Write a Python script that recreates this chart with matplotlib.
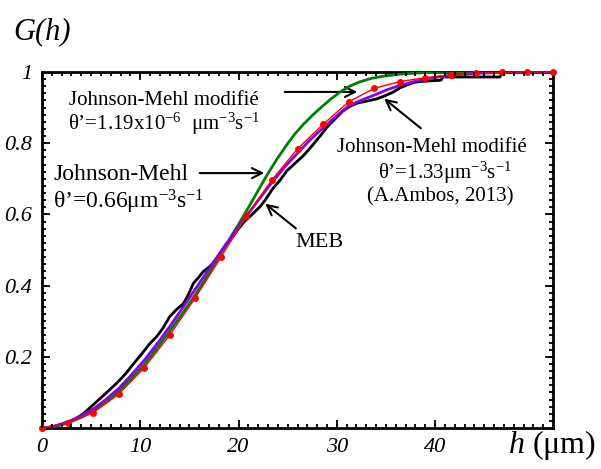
import matplotlib
matplotlib.use("Agg")
import numpy as np
import matplotlib.pyplot as plt
from matplotlib.ticker import FixedLocator, FixedFormatter, NullLocator

plt.rcParams['font.family'] = ['Liberation Serif', 'DejaVu Serif']
plt.rcParams['mathtext.fontset'] = 'custom'
plt.rcParams['mathtext.rm'] = 'Liberation Serif'
plt.rcParams['mathtext.it'] = 'Liberation Serif:italic'

# MEB (experimental)
meb_h = [0, 1, 2, 3.2, 4.2, 5.2, 6.4, 7.6, 8.5, 9.3, 10.2, 11.0, 11.65, 12.3, 13.0,
         13.7, 14.4, 14.9, 15.4, 16.0, 16.4, 17.0, 17.4, 18.1, 18.8, 19.4, 20.0,
         20.6, 21.3, 22.2, 22.7, 23.5, 24.2, 24.9, 25.8, 26.6, 27.4, 28.3, 29.0,
         29.6, 30.6, 31.3, 32.0, 33.0, 34.0, 34.8, 35.7, 36.4, 37.1, 37.8, 38.4,
         39.5, 40.6, 40.8, 46.6, 46.8, 47.4, 52]
meb_G = [0, 0.003, 0.010, 0.022, 0.040, 0.065, 0.095, 0.126, 0.152, 0.180, 0.210,
         0.238, 0.256, 0.280, 0.313, 0.333, 0.350, 0.375, 0.406, 0.425, 0.439, 0.452,
         0.463, 0.490, 0.519, 0.537, 0.560, 0.580, 0.598, 0.622, 0.640, 0.673, 0.695,
         0.722, 0.745, 0.765, 0.790, 0.820, 0.845, 0.862, 0.890, 0.903, 0.912, 0.918,
         0.924, 0.932, 0.943, 0.955, 0.963, 0.970, 0.973, 0.975, 0.977, 0.986, 0.986,
         0.997, 1.0, 1.0]

# Johnson-Mehl modifié theta'=1.19e-6 (green)
jmm1_h = [0, 1, 2.6, 4, 5.2, 6.5, 7.8, 9, 10.4, 11.7, 13.0, 14.3, 15.6, 16.9, 18.2,
          19.4, 20.5, 21.6, 22.8, 23.9, 24.9, 25.7, 26.6, 27.5, 28.3, 29.3, 30.3,
          31.3, 32.3, 33.5, 34.7, 36.4, 38, 40, 42, 52]
jmm1_G = [0, 0.002, 0.014, 0.030, 0.047, 0.072, 0.102, 0.136, 0.178, 0.224, 0.272,
          0.322, 0.374, 0.430, 0.490, 0.545, 0.595, 0.648, 0.706, 0.755, 0.795, 0.825,
          0.853, 0.878, 0.898, 0.922, 0.943, 0.960, 0.972, 0.982, 0.988, 0.994, 0.997,
          0.999, 1.0, 1.0]

# Johnson-Mehl theta'=0.66 (purple)
jm_h = [0, 1, 2.6, 4, 5.2, 6.5, 7.8, 9, 10.4, 11.7, 13.0, 14.3, 15.6, 16.9, 18.2,
        19.5, 20.8, 22.1, 23.4, 24.7, 26.0, 27.3, 28.6, 29.9, 31.2, 32.5, 33.8,
        35.1, 36.4, 37.7, 39.0, 40.3, 41.6, 42.9, 44.2, 46.8, 52]
jm_G = [0, 0.003, 0.017, 0.034, 0.053, 0.080, 0.111, 0.146, 0.190, 0.236, 0.285,
        0.337, 0.390, 0.443, 0.495, 0.546, 0.595, 0.643, 0.690, 0.733, 0.772, 0.810,
        0.843, 0.875, 0.905, 0.921, 0.935, 0.950, 0.962, 0.972, 0.980, 0.986, 0.990,
        0.994, 0.996, 0.999, 1.0]

# Johnson-Mehl modifié theta'=1.33 (A.Ambos, 2013) (red)
jma_h = [0, 2.6, 5.2, 7.8, 10.4, 13.0, 15.6, 18.2, 20.8, 23.4, 26.0, 28.6, 31.2,
         33.8, 36.4, 39.0, 41.6, 44.2, 46.8, 49.4, 52.0]
jma_G = [0, 0.013, 0.043, 0.095, 0.169, 0.261, 0.366, 0.479, 0.596, 0.697, 0.784,
         0.853, 0.916, 0.954, 0.973, 0.984, 0.992, 0.996, 0.999, 1.0, 1.0]

x_ticks = [0, 10, 20, 30, 40]
x_ticklabels = ['0', '10', '20', '30', '40']
y_ticks = [0.2, 0.4, 0.6, 0.8, 1.0]
y_ticklabels = ['0.2', '0.4', '0.6', '0.8', '1']

W, H = 601, 469
fig = plt.figure(figsize=(W/100, H/100), dpi=100)
ax = fig.add_axes([42/W, 1-428/H, (553-42)/W, (428-72)/H])
ax_w_px, ax_h_px = 553-42, 428-72

ax.set_xlim(0, 52)
ax.set_ylim(0, 1)
ax.xaxis.set_major_locator(FixedLocator(x_ticks))
ax.yaxis.set_major_locator(FixedLocator(y_ticks))
ax.xaxis.set_minor_locator(NullLocator())
ax.yaxis.set_minor_locator(NullLocator())
ax.xaxis.set_major_formatter(FixedFormatter(x_ticklabels))
ax.yaxis.set_major_formatter(FixedFormatter(y_ticklabels))
ax.tick_params(axis='both', which='major', direction='in', length=0,
               labelsize=16, pad=7)
for s in ax.spines.values():
    s.set_linewidth(2)

# tick marks on all four sides, pointing inwards
x_major = np.array(x_ticks)
x_minor = np.arange(1, 52)
y_major = np.arange(0.2, 1.0, 0.2)
y_minor = np.arange(0.02, 1.0, 0.02)
tk = dict(color='black', lw=1.3, clip_on=False, zorder=7)
xt = ax.get_xaxis_transform()
yt = ax.get_yaxis_transform()
for pos, L in ((x_minor, 4), (x_major, 8)):
    f = L / ax_h_px
    ax.vlines(pos, 0, f, transform=xt, **tk)
    ax.vlines(pos, 1 - f, 1, transform=xt, **tk)
for pos, L in ((y_minor, 4), (y_major, 8)):
    f = L / ax_w_px
    ax.hlines(pos, 0, f, transform=yt, **tk)
    ax.hlines(pos, 1 - f, 1, transform=yt, **tk)

ax.plot(meb_h, meb_G, color='black', lw=2.0, zorder=3)
ax.plot(jmm1_h, jmm1_G, color='#008000', lw=2.0, zorder=4)
ax.plot(jm_h, jm_G, color='#8a00e6', lw=2.0, zorder=5)
ax.plot(jma_h, jma_G, color='red', lw=1.0, marker='o', ms=4, zorder=6, clip_on=False)

fig.text(13/W, 1-32/H, 'G(h)', fontsize=22, style='italic', ha='left', va='center')
fig.text(508/W, 1-445/H, r'$h$ (μm)', fontsize=23, ha='left', va='center')

arrowprops = dict(arrowstyle='->', color='black', lw=1.5, mutation_scale=18)

ax.text(12.4, 0.921, 'Johnson-Mehl modifié', fontsize=15, ha='center', va='center')
ax.text(12.4, 0.855, r'θ’=1.19x10$^{-6}$  μm$^{-3}$s$^{-1}$', fontsize=15, ha='center', va='center')
ax.annotate('', xy=(32.36, 0.944), xytext=(24.42, 0.944), arrowprops=arrowprops)

ax.text(1.12, 0.711, 'Johnson-Mehl', fontsize=17, ha='left', va='center')
ax.text(1.12, 0.635, r'θ’=0.66μm$^{-3}$s$^{-1}$', fontsize=17, ha='left', va='center')
ax.annotate('', xy=(22.9, 0.716), xytext=(15.77, 0.716), arrowprops=arrowprops)

ax.text(28.2, 0.522, 'MEB', fontsize=16, ha='center', va='center')
ax.annotate('', xy=(22.49, 0.635), xytext=(26.05, 0.556), arrowprops=arrowprops)

ax.text(39.7, 0.787, 'Johnson-Mehl modifié', fontsize=15, ha='center', va='center')
ax.text(41.0, 0.716, r'θ’=1.33μm$^{-3}$s$^{-1}$', fontsize=15, ha='center', va='center')
ax.text(40.5, 0.649, '(A.Ambos, 2013)', fontsize=15, ha='center', va='center')
ax.annotate('', xy=(34.6, 0.93), xytext=(38.77, 0.837), arrowprops=arrowprops)

for lab in ax.get_xticklabels() + ax.get_yticklabels():
    lab.set_fontstyle('italic')

fig.savefig('out.png', dpi=100)
